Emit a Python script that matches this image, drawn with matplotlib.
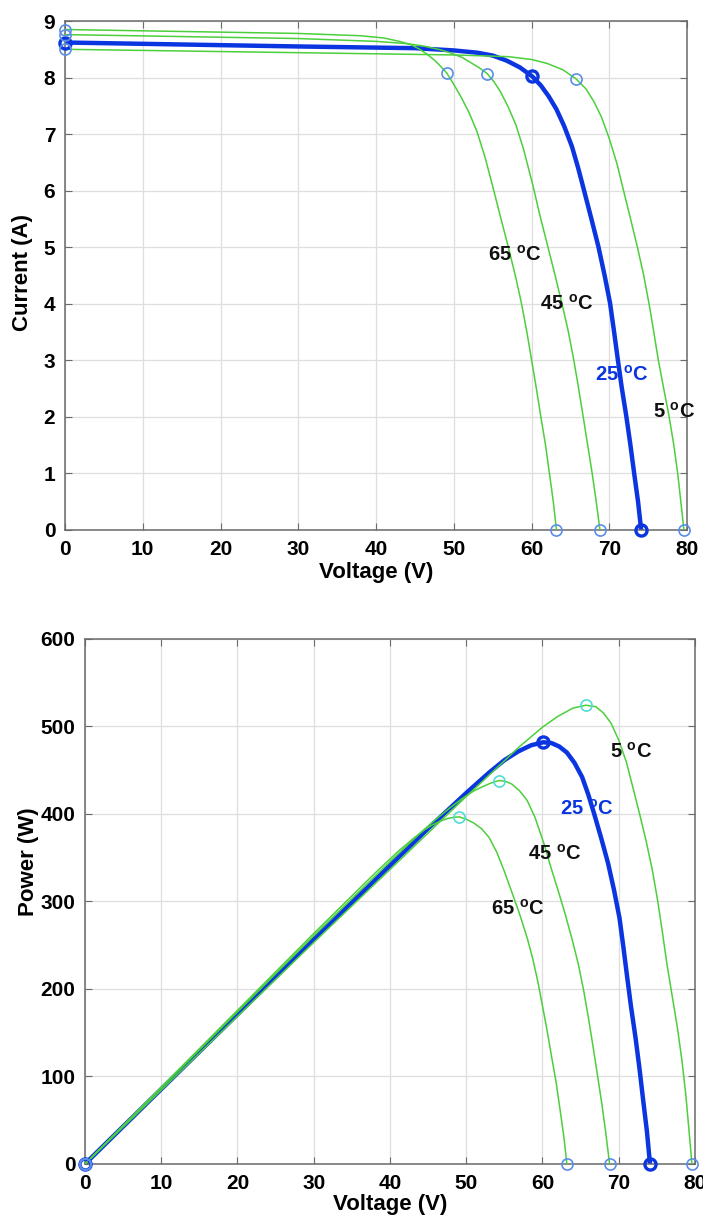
import matplotlib
matplotlib.use("Agg")
import matplotlib.pyplot as plt

plt.rcParams['font.family'] = ['Liberation Sans Narrow', 'Liberation Sans', 'DejaVu Sans']
plt.rcParams['font.weight'] = 'bold'
plt.rcParams['axes.labelweight'] = 'bold'

# curves (voltage V, current A, power W)
v_65 = [0, 30, 38, 41, 43, 44.5, 45.5, 46.5, 47.5, 48.3, 49.1, 50, 51, 52, 53, 54, 55,
        56, 57, 58, 58.7, 59.4, 60, 60.6, 61.2, 61.8, 62.3, 62.8, 63.2]
i_65 = [8.85, 8.78, 8.74, 8.70, 8.64, 8.58, 8.51, 8.42, 8.31, 8.20, 8.08, 7.88, 7.64, 7.37,
        7.04, 6.60, 6.08, 5.54, 5.01, 4.45, 4.01, 3.50, 3.01, 2.52, 2.00, 1.50, 1.00, 0.50, 0]
p_65 = [0, 263.4, 332.1, 356.7, 371.5, 381.8, 387.2, 391.5, 394.7, 396.1, 396.7, 394.0, 389.6,
        383.2, 373.1, 356.4, 334.4, 310.2, 285.6, 258.1, 235.4, 207.9, 180.6, 152.7, 122.4,
        92.7, 62.3, 31.4, 0]

v_45 = [0, 30, 40, 44, 46, 48, 49.5, 51, 52, 53.2, 54.3, 55.2, 56, 57, 58, 59, 60.2, 61.1,
        62.1, 63, 63.9, 64.7, 65.4, 66, 66.6, 67.2, 67.8, 68.3, 68.8]
i_45 = [8.76, 8.69, 8.64, 8.60, 8.56, 8.50, 8.44, 8.36, 8.28, 8.18, 8.07, 7.92, 7.75, 7.48,
        7.16, 6.72, 6.08, 5.55, 5.01, 4.52, 4.01, 3.53, 3.03, 2.55, 2.04, 1.52, 1.00, 0.52, 0]
p_45 = [0, 260.7, 345.6, 378.4, 393.8, 408.0, 417.8, 426.4, 430.6, 435.2, 438.2, 437.2, 434.0,
        426.4, 415.3, 396.5, 366.0, 339.1, 311.1, 284.8, 256.2, 228.4, 198.2, 168.3, 135.9,
        102.1, 67.8, 35.5, 0]

v_25 = [0, 30, 45, 50, 53, 55, 56.8, 58.5, 60.1, 61.2, 62.2, 63.2, 64.2, 65.2, 66, 66.8,
        67.7, 68.6, 69.4, 70.1, 70.6, 71.1, 71.6, 72.2, 72.7, 73.2, 73.7, 74.1]
i_25 = [8.62, 8.55, 8.52, 8.48, 8.44, 8.39, 8.30, 8.18, 8.02, 7.86, 7.67, 7.44, 7.14, 6.78,
        6.40, 5.98, 5.50, 5.01, 4.50, 4.01, 3.52, 3.01, 2.52, 2.00, 1.52, 1.00, 0.50, 0]
p_25 = [0, 256.5, 383.4, 424.0, 447.3, 461.5, 471.4, 478.5, 482.0, 481.0, 477.1, 470.2, 458.4,
        442.1, 422.4, 399.5, 372.4, 343.7, 312.3, 281.1, 248.5, 214.0, 180.4, 144.4, 110.5,
        73.2, 36.9, 0]

v_5 = [0, 30, 50, 57, 60, 62, 64, 65.7, 67, 68, 69, 70, 71, 71.8, 72.7, 73.6, 74.4, 75.1,
       75.7, 76.3, 77, 77.7, 78.3, 78.8, 79.2, 79.6]
i_5 = [8.50, 8.44, 8.40, 8.37, 8.32, 8.25, 8.14, 7.98, 7.80, 7.58, 7.30, 6.92, 6.47, 6.02,
       5.52, 5.01, 4.52, 4.01, 3.52, 3.01, 2.50, 2.00, 1.50, 1.00, 0.50, 0]
p_5 = [0, 253.2, 420.0, 477.1, 499.2, 511.5, 521.0, 524.3, 522.6, 515.4, 503.7, 484.4, 459.4,
       432.2, 401.3, 368.7, 336.3, 301.2, 266.5, 229.7, 192.5, 155.4, 117.5, 78.8, 39.6, 0]

# index of the max power point in each curve
mpp_65, mpp_45, mpp_25, mpp_5 = 10, 10, 8, 7

GREEN = '#4ccf3c'
BLUE = '#0a35e0'
LBLUE = '#5a8fe8'
CYAN = '#4fdcd6'
TICK_FS = 15
LABEL_FS = 16
NOTE_FS = 14.5


def style_axes(ax, ymax, ystep):
    ax.set_xlim(0, 80)
    ax.set_ylim(0, ymax)
    ax.set_xticks(range(0, 81, 10))
    ax.set_yticks(range(0, ymax + 1, ystep))
    ax.grid(True, color='#dedede', linewidth=0.9)
    ax.set_axisbelow(True)
    for s in ax.spines.values():
        s.set_color('#6a6a6a')
        s.set_linewidth(1.1)
    ax.tick_params(direction='in', top=True, right=True, length=5,
                   color='#6a6a6a', labelsize=TICK_FS, pad=7)


def draw(ax, v, y, k, color, lw, mcol, mpp_col, mew):
    ax.plot(v, y, color=color, lw=lw, zorder=3 if color == GREEN else 2)
    ax.plot([v[0], v[-1]], [y[0], y[-1]], 'o', mfc='none', mec=mcol,
            ms=8, mew=mew, clip_on=False, zorder=4)
    ax.plot([v[k]], [y[k]], 'o', mfc='none', mec=mpp_col,
            ms=8, mew=mew, clip_on=False, zorder=4)


fig = plt.figure(figsize=(7.03, 12.22), dpi=100)
ax1 = fig.add_axes([0.0925, 0.5663, 0.8848, 0.4165])
ax2 = fig.add_axes([0.1209, 0.0475, 0.8677, 0.4296])

# I-V
draw(ax1, v_25, i_25, mpp_25, BLUE, 3.2, BLUE, BLUE, 2.4)
draw(ax1, v_65, i_65, mpp_65, GREEN, 1.1, LBLUE, LBLUE, 1.2)
draw(ax1, v_45, i_45, mpp_45, GREEN, 1.1, LBLUE, LBLUE, 1.2)
draw(ax1, v_5, i_5, mpp_5, GREEN, 1.1, LBLUE, LBLUE, 1.2)
style_axes(ax1, 9, 1)
ax1.set_ylabel('Current (A)', fontsize=LABEL_FS)
ax1.yaxis.set_label_coords(-0.052, 0.505)
ax1.set_xlabel('Voltage (V)', fontsize=LABEL_FS)
ax1.xaxis.set_label_coords(0.5, -0.062)

lab = r' $^{\mathregular{o}}$C'
ax1.text(54.4, 4.87, '65' + lab, fontsize=NOTE_FS, va='center', color='#111111')
ax1.text(61.1, 4.01, '45' + lab, fontsize=NOTE_FS, va='center', color='#111111')
ax1.text(68.2, 2.74, '25' + lab, fontsize=NOTE_FS, va='center', color=BLUE)
ax1.text(75.6, 2.09, '5' + lab, fontsize=NOTE_FS, va='center', color='#111111')

# P-V
draw(ax2, v_25, p_25, mpp_25, BLUE, 3.2, BLUE, BLUE, 2.4)
draw(ax2, v_65, p_65, mpp_65, GREEN, 1.1, LBLUE, CYAN, 1.2)
draw(ax2, v_45, p_45, mpp_45, GREEN, 1.1, LBLUE, CYAN, 1.2)
draw(ax2, v_5, p_5, mpp_5, GREEN, 1.1, LBLUE, CYAN, 1.2)
style_axes(ax2, 600, 100)
ax2.set_ylabel('Power (W)', fontsize=LABEL_FS)
ax2.yaxis.set_label_coords(-0.076, 0.575)
ax2.set_xlabel('Voltage (V)', fontsize=LABEL_FS)
ax2.xaxis.set_label_coords(0.5, -0.058)

ax2.text(68.9, 471, '5' + lab, fontsize=NOTE_FS, va='center', color='#111111')
ax2.text(62.3, 406, '25' + lab, fontsize=NOTE_FS, va='center', color=BLUE)
ax2.text(58.1, 355, '45' + lab, fontsize=NOTE_FS, va='center', color='#111111')
ax2.text(53.3, 292, '65' + lab, fontsize=NOTE_FS, va='center', color='#111111')

fig.savefig('out.png', dpi=100)
